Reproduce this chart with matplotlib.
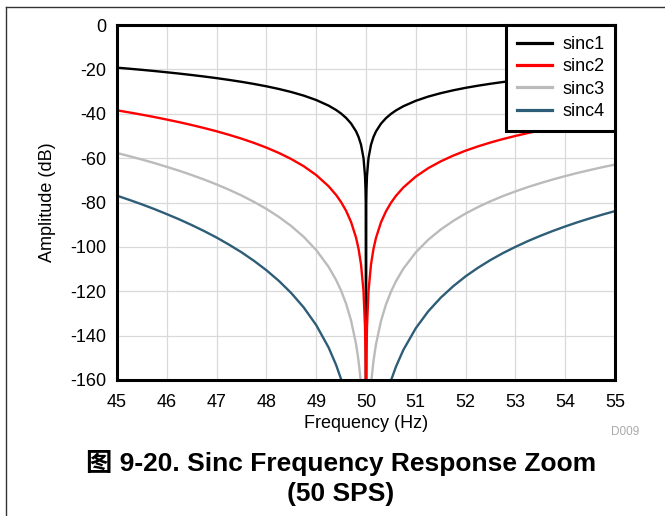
import matplotlib
matplotlib.use("Agg")
import matplotlib.pyplot as plt
from matplotlib.lines import Line2D

plt.rcParams['axes.unicode_minus'] = False
plt.rcParams['font.family'] = ['Liberation Sans', 'Noto Sans CJK SC', 'DejaVu Sans']

# Frequency points (Hz) at which the curves were read
freq = [45, 45.25, 45.5, 45.75, 46, 46.25, 46.5, 46.75, 47, 47.25, 47.5, 47.75, 48, 48.25,
        48.5, 48.75, 49,
        49.25, 49.4, 49.5, 49.6, 49.7, 49.8, 49.85, 49.9, 49.95, 49.98, 49.99, 49.995,
        50.0,
        50.005, 50.01, 50.02, 50.05, 50.1, 50.15, 50.2, 50.3, 50.4, 50.5, 50.6, 50.75,
        51, 51.25, 51.5, 51.75, 52, 52.25, 52.5, 52.75, 53, 53.25, 53.5, 53.75, 54,
        54.25, 54.5, 54.75, 55]

# Amplitude readings (dB); -200 marks where a curve is off the bottom of the plot
sinc1 = [-19.23, -19.71, -20.21, -20.74, -21.31, -21.90, -22.54, -23.22, -23.95, -24.75,
         -25.61, -26.57, -27.63, -28.83, -30.21, -31.83, -33.81,
         -36.35, -38.31, -39.91, -41.87, -44.39, -47.92, -50.43, -53.96, -59.99, -67.96,
         -73.98, -80.0,
         -200,
         -80.0, -74.0, -67.97, -60.01, -54.0, -50.48, -47.99, -44.49, -42.01, -40.09,
         -38.52, -36.61,
         -34.16, -32.26, -30.73, -29.44, -28.32, -27.35, -26.48, -25.70, -25.00, -24.35,
         -23.76, -23.21, -22.70, -22.22, -21.78, -21.36, -20.97]
sinc2 = [-38.46, -39.42, -40.42, -41.48, -42.62, -43.80, -45.08, -46.44, -47.90, -49.50,
         -51.22, -53.14, -55.26, -57.66, -60.42, -63.66, -67.62,
         -72.70, -76.62, -79.82, -83.74, -88.78, -95.84, -100.86, -107.92, -119.98, -135.92,
         -147.96, -160.0,
         -200,
         -160.0, -148.0, -135.94, -120.02, -108.0, -100.96, -95.98, -88.98, -84.02, -80.18,
         -77.04, -73.22,
         -68.32, -64.52, -61.46, -58.88, -56.64, -54.70, -52.96, -51.40, -50.00, -48.70,
         -47.52, -46.42, -45.40, -44.44, -43.56, -42.72, -41.94]
sinc3 = [-57.69, -59.13, -60.63, -62.22, -63.93, -65.70, -67.62, -69.66, -71.85, -74.25,
         -76.83, -79.71, -82.89, -86.49, -90.63, -95.49, -101.43,
         -109.05, -114.93, -119.73, -125.61, -133.17, -143.76, -151.29, -161.88, -200, -200,
         -200, -200,
         -200,
         -200, -200, -200, -200, -162.0, -151.44, -143.97, -133.47, -126.03, -120.27,
         -115.56, -109.83,
         -102.48, -96.78, -92.19, -88.32, -84.96, -82.05, -79.44, -77.10, -75.00, -73.05,
         -71.28, -69.63, -68.10, -66.66, -65.34, -64.08, -62.91]
sinc4 = [-76.92, -78.84, -80.84, -82.96, -85.24, -87.60, -90.16, -92.88, -95.80, -99.00,
         -102.44, -106.28, -110.52, -115.32, -120.84, -127.32, -135.24,
         -145.40, -153.24, -159.64, -167.48, -200, -200, -200, -200, -200, -200,
         -200, -200,
         -200,
         -200, -200, -200, -200, -200, -200, -200, -200, -168.04, -160.36,
         -154.08, -146.44,
         -136.64, -129.04, -122.92, -117.76, -113.28, -109.40, -105.92, -102.80, -100.00,
         -97.40, -95.04, -92.84, -90.80, -88.88, -87.12, -85.44, -83.88]

series_names = ['sinc1', 'sinc2', 'sinc3', 'sinc4']
series_vals = [sinc1, sinc2, sinc3, sinc4]
colors = ['#000000', '#FF0000', '#BBBBBB', '#2E5D78']

xticks = [45, 46, 47, 48, 49, 50, 51, 52, 53, 54, 55]
yticks = [0, -20, -40, -60, -80, -100, -120, -140, -160]

fig = plt.figure(figsize=(6.65, 5.16), dpi=100)
ax = fig.add_axes([117/665, 1-380/516, (615-117)/665, (380-25)/516])

for name, vals, c in zip(series_names, series_vals, colors):
    ax.plot(freq, vals, color=c, lw=1.7, label=name, solid_joinstyle='round')

ax.set_xlim(45, 55)
ax.set_ylim(-160, 0)
ax.set_xticks(xticks)
ax.set_yticks(yticks)
ax.set_xticklabels([str(t) for t in xticks])
ax.set_yticklabels([str(t) for t in yticks])
ax.tick_params(axis='x', length=0, labelsize=13, pad=10)
ax.tick_params(axis='y', length=0, labelsize=13, pad=8)
ax.grid(True, color='#D9D9D9', lw=0.9)
ax.set_axisbelow(True)
for s in ax.spines.values():
    s.set_linewidth(2.2)
    s.set_color('black')

ax.set_xlabel('Frequency (Hz)', fontsize=13, labelpad=3)
ax.set_ylabel('Amplitude (dB)', fontsize=13, labelpad=10)

leg = ax.legend(loc='upper right', fontsize=13, frameon=True, fancybox=False,
                framealpha=1.0, borderaxespad=0, handlelength=1.95, handletextpad=0.55,
                labelspacing=0.3, borderpad=0.6)
leg.get_frame().set_edgecolor('black')
leg.get_frame().set_linewidth(2.2)
for l in leg.get_lines():
    l.set_linewidth(2.3)

fig.text(625/665, 1-432/516, 'D009', fontsize=8.5, color='#AAAAAA', ha='center', va='center')
fig.text(341/665, 1-463/516, '图 9-20. Sinc Frequency Response Zoom', fontsize=19,
         fontweight='bold', ha='center', va='center')
fig.text(341/665, 1-494/516, '(50 SPS)', fontsize=19,
         fontweight='bold', ha='center', va='center')

# outer frame lines (left and top)
fig.add_artist(Line2D([6/665, 6/665], [0, 1-7/516], transform=fig.transFigure,
                      color='#333333', lw=1.0))
fig.add_artist(Line2D([6/665, 1], [1-7/516, 1-7/516], transform=fig.transFigure,
                      color='#333333', lw=1.0))

fig.savefig('out.png', dpi=100)
